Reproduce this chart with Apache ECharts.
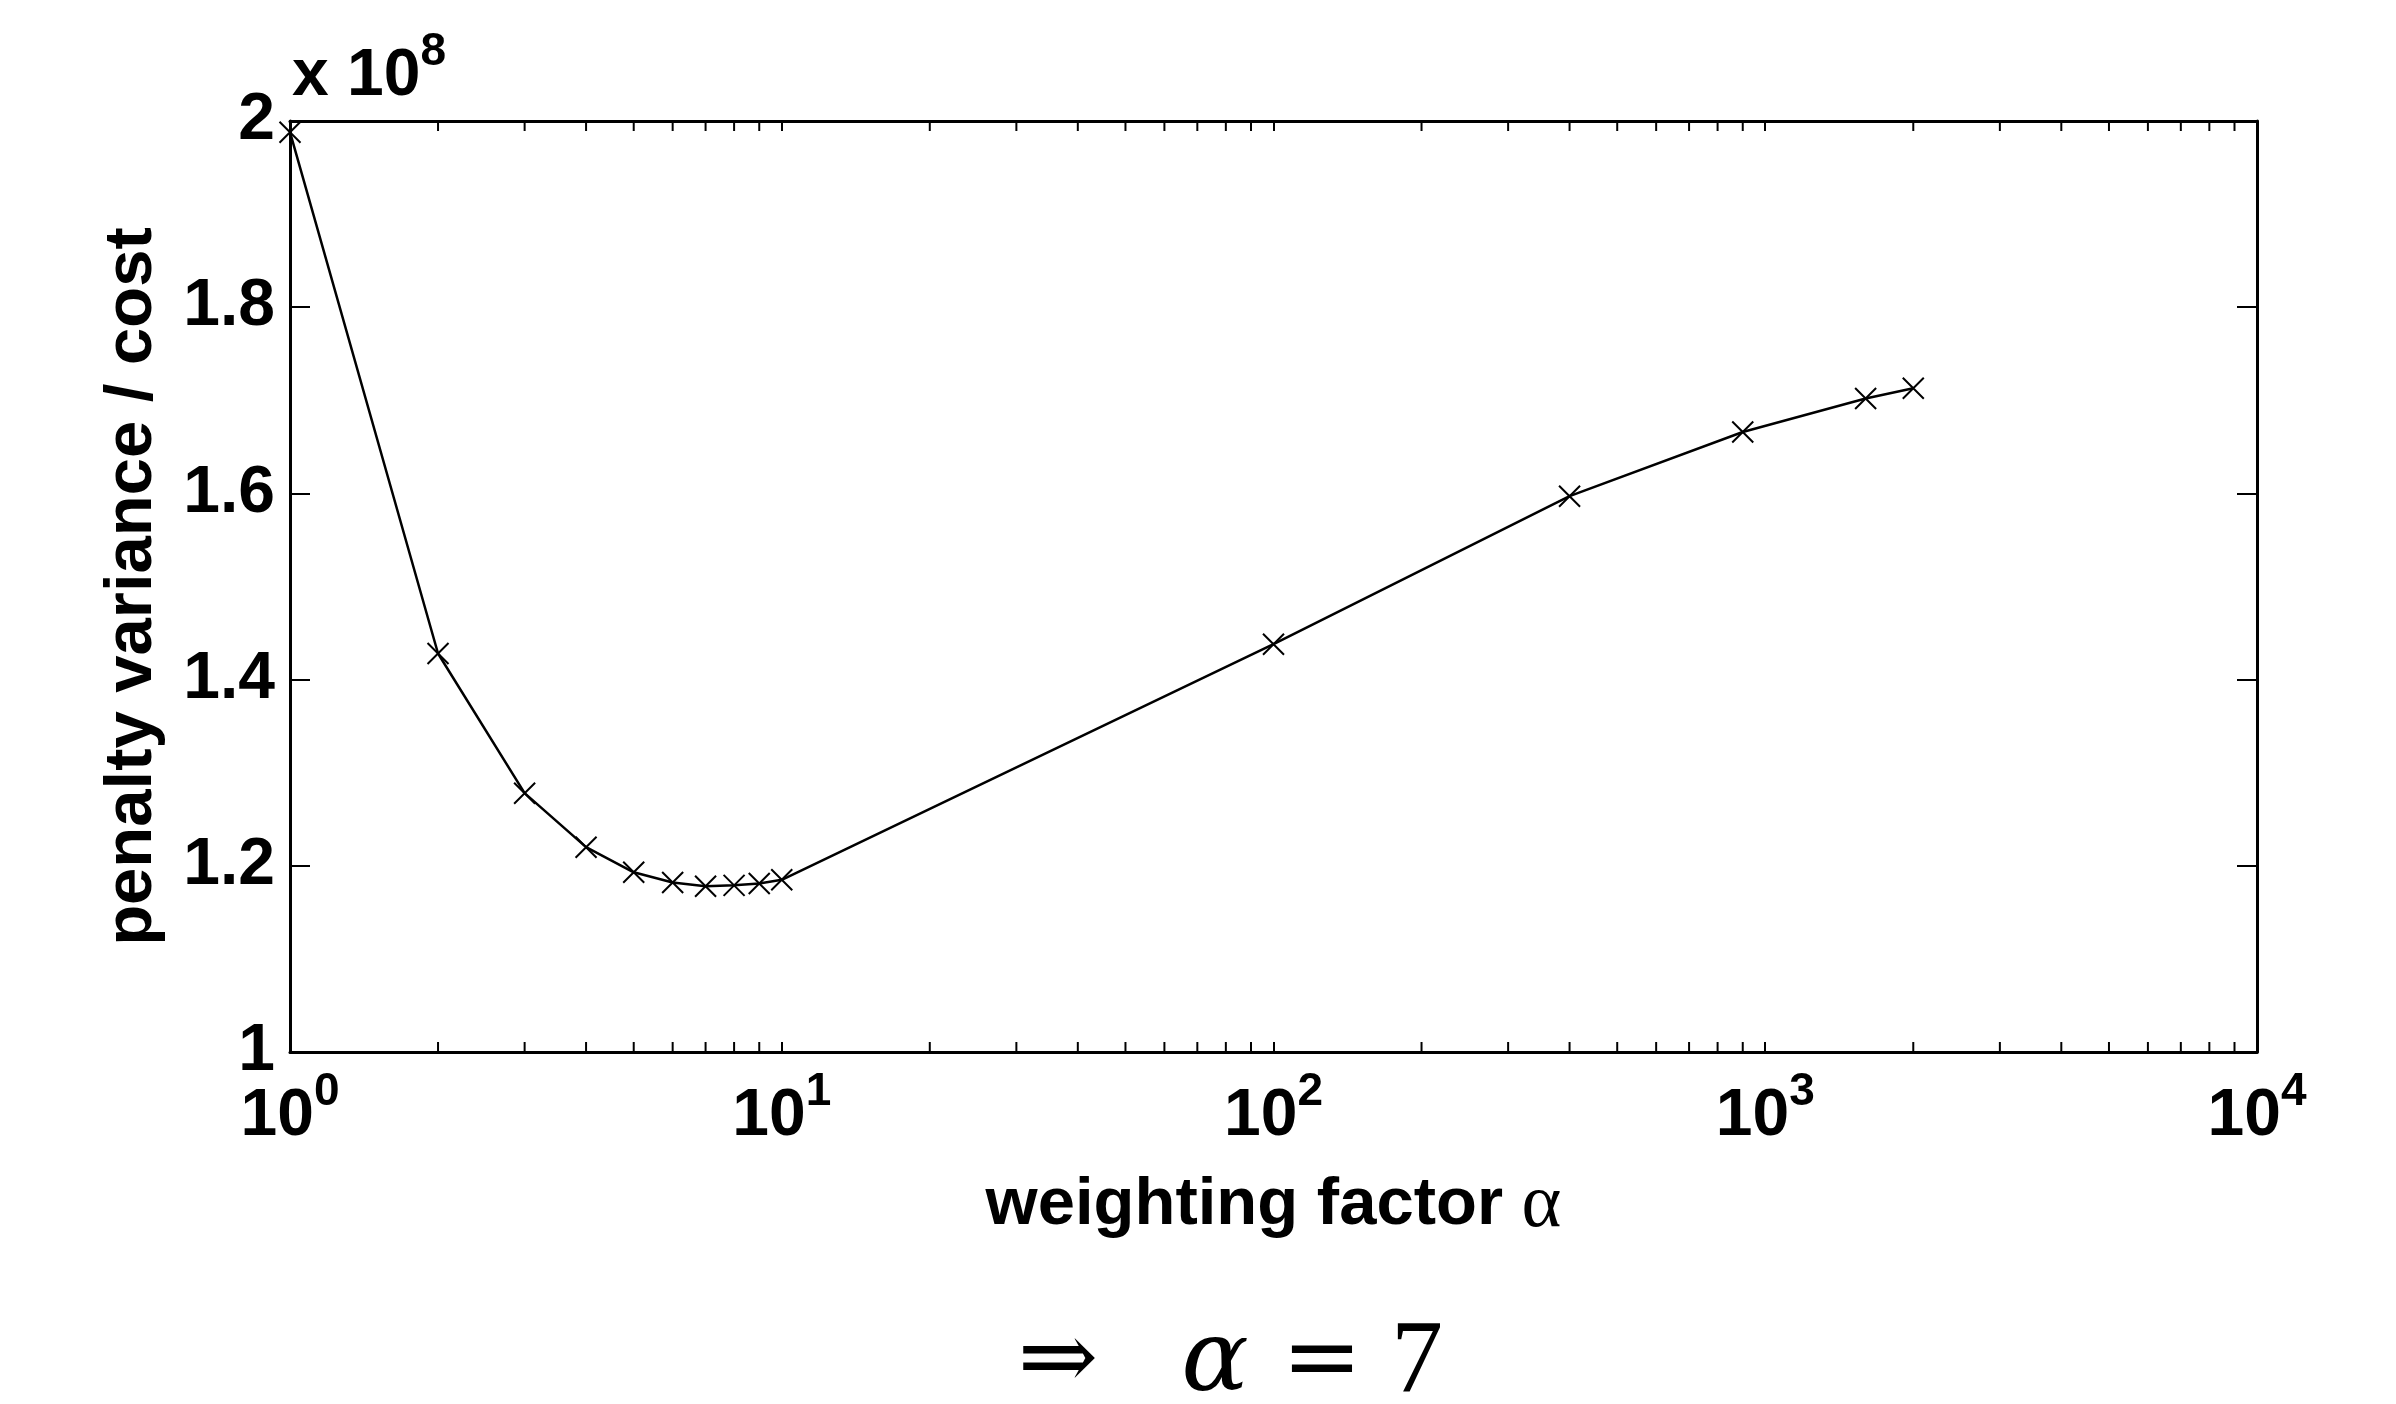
<!DOCTYPE html>
<html>
<head>
<meta charset="utf-8">
<script src="https://cdn.jsdelivr.net/npm/echarts@6/dist/echarts.min.js"></script>
<style>
  html, body { margin: 0; padding: 0; background: #fff; }
  #main { width: 2396px; height: 1404px; }
</style>
</head>
<body>
<div id="main"></div>
<script>
// weighting factor alpha and penalty variance / cost (in units of 10^8)
var alphaValues = [1, 2, 3, 4, 5, 6, 7, 8, 9, 10, 100, 400, 900, 1600, 2000];
var penaltyValues = [1.988, 1.428, 1.278, 1.220, 1.193, 1.182, 1.178, 1.179, 1.181, 1.185, 1.438, 1.597, 1.666, 1.702, 1.713];

var xMin = 1, xMax = 10000;
var yMin = 1, yMax = 2, yStep = 0.2;
var yExponent = 8;

// minor ticks of the log axis: 2..9 in every decade
var minorTickValues = [];
[1, 10, 100, 1000].forEach(function (d) {
    for (var k = 2; k <= 9; k++) minorTickValues.push(d * k);
});

var FONT = 'Liberation Sans, Arial, sans-serif';
var SERIF = 'DejaVu Serif, Liberation Serif, serif';

var powRich = {
    b: { fontFamily: FONT, fontWeight: 'bold', fontSize: 66, lineHeight: 81, verticalAlign: 'bottom', color: '#000' },
    s: { fontFamily: FONT, fontWeight: 'bold', fontSize: 46, verticalAlign: 'top', color: '#000' }
};

var chart = echarts.init(document.getElementById('main'));

var frameLine = { show: true, onZero: false, lineStyle: { color: '#000', width: 3 } };

chart.setOption({
    animation: false,
    backgroundColor: '#fff',
    grid: { left: 290, top: 121, right: 139, bottom: 352, outerBoundsMode: 'none' },
    xAxis: [{
        type: 'log',
        logBase: 10,
        min: xMin,
        max: xMax,
        position: 'bottom',
        axisLine: frameLine,
        axisTick: { inside: true, length: 10, lineStyle: { color: '#000', width: 2 } },
        splitLine: { show: false },
        axisLabel: {
            margin: 17,
            rich: powRich,
            formatter: function (v) {
                return '{b|10}{s|' + Math.round(Math.log10(v)) + '}';
            }
        },
        name: '{a|weighting factor }{g|α}',
        nameLocation: 'middle',
        nameGap: 116,
        nameTextStyle: {
            rich: {
                a: { fontFamily: FONT, fontWeight: 'bold', fontSize: 67, color: '#000' },
                g: { fontFamily: 'Liberation Serif, serif', fontSize: 76, color: '#000' }
            }
        }
    }, {
        type: 'log',
        logBase: 10,
        min: xMin,
        max: xMax,
        position: 'top',
        axisLine: frameLine,
        axisTick: { inside: true, length: 10, lineStyle: { color: '#000', width: 2 } },
        axisLabel: { show: false },
        splitLine: { show: false }
    }],
    yAxis: [{
        type: 'value',
        min: yMin,
        max: yMax,
        interval: yStep,
        position: 'left',
        axisLine: frameLine,
        axisTick: { inside: true, length: 20, lineStyle: { color: '#000', width: 2 } },
        splitLine: { show: false },
        axisLabel: {
            margin: 15,
            fontFamily: FONT,
            fontWeight: 'bold',
            fontSize: 66,
            color: '#000'
        },
        name: 'penalty variance / cost',
        nameLocation: 'middle',
        nameGap: 124,
        nameTextStyle: { fontFamily: FONT, fontWeight: 'bold', fontSize: 67, color: '#000' }
    }, {
        type: 'value',
        min: yMin,
        max: yMax,
        interval: yStep,
        position: 'right',
        axisLine: frameLine,
        axisTick: { inside: true, length: 20, lineStyle: { color: '#000', width: 2 } },
        axisLabel: { show: false },
        splitLine: { show: false }
    }],
    graphic: [{
        type: 'text',
        left: 292,
        top: 29,
        style: {
            text: '{b|x 10}{s|' + yExponent + '}',
            rich: powRich
        }
    }, {
        type: 'text',
        x: 1058, y: 1364,
        style: { text: '⇒', font: '96px DejaVu Serif', fill: '#000', align: 'center', verticalAlign: 'middle' }
    }, {
        type: 'text',
        x: 1215, y: 1364,
        style: { text: 'α', font: 'italic 100px ' + SERIF, fill: '#000', align: 'center', verticalAlign: 'middle' }
    }, {
        type: 'text',
        x: 1322, y: 1364,
        style: { text: '=', font: '96px DejaVu Serif', fill: '#000', align: 'center', verticalAlign: 'middle' }
    }, {
        type: 'text',
        x: 1417, y: 1364,
        style: { text: '7', font: '104px Liberation Serif', fill: '#000', align: 'center', verticalAlign: 'middle' }
    }],
    series: [{
        type: 'line',
        xAxisIndex: 0,
        yAxisIndex: 0,
        data: alphaValues.map(function (a, i) { return [a, penaltyValues[i]]; }),
        lineStyle: { color: '#000', width: 2.5 },
        symbol: 'path://M0,0L10,10M10,0L0,10',
        symbolSize: 21,
        itemStyle: { color: 'rgba(0,0,0,0)', borderColor: '#000', borderWidth: 2 },
        clip: false,
        z: 3
    }, {
        type: 'custom',
        xAxisIndex: 0,
        yAxisIndex: 0,
        silent: true,
        clip: false,
        data: minorTickValues.map(function (v) { return [v, yMin]; }),
        renderItem: function (params, api) {
            var v = api.value(0);
            var b = api.coord([v, yMin]);
            var t = api.coord([v, yMax]);
            var st = { stroke: '#000', lineWidth: 2 };
            return {
                type: 'group',
                children: [
                    { type: 'line', shape: { x1: b[0], y1: b[1], x2: b[0], y2: b[1] - 10 }, style: st },
                    { type: 'line', shape: { x1: t[0], y1: t[1], x2: t[0], y2: t[1] + 10 }, style: st }
                ]
            };
        }
    }]
});
</script>
</body>
</html>
